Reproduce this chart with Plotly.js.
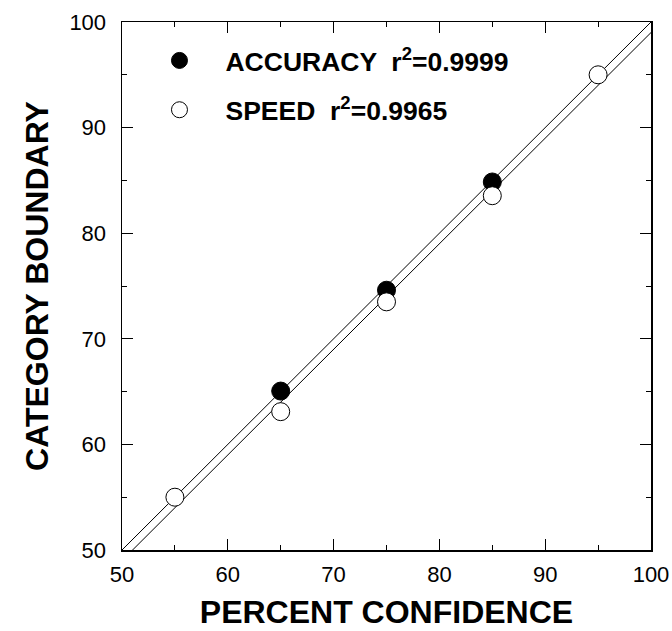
<!DOCTYPE html>
<html>
<head>
<meta charset="utf-8">
<script src="https://cdn.plot.ly/plotly-3.0.1.min.js"></script>
<style>
  html, body { margin: 0; padding: 0; background: #ffffff; }
  #chart { width: 672px; height: 631px; }
</style>
</head>
<body>
<div id="chart"></div>
<script>
// ---- data ----
const accuracyX = [65, 75, 85];
const accuracyY = [65.05, 74.6, 84.85];
const speedX = [55, 65, 75, 85, 95];
const speedY = [55.0, 63.1, 73.5, 83.55, 95.0];
// fitted regression lines (endpoints across the axis range)
const fitX = [50, 100];
const accuracyFitY = [50, 100];
const speedFitY = [49.0, 99.0];
const accuracyLabel = 'ACCURACY  r<sup>2</sup>=0.9999';
const speedLabel = 'SPEED  r<sup>2</sup>=0.9965';
const xTitle = 'PERCENT CONFIDENCE';
const yTitle = 'CATEGORY BOUNDARY';
const tickVals = [50, 60, 70, 80, 90, 100];

const FONT = 'Liberation Sans, Arial, Helvetica, sans-serif';

const traces = [
  { x: fitX, y: accuracyFitY, mode: 'lines', line: { color: '#000', width: 1 },
    showlegend: false, hoverinfo: 'skip' },
  { x: fitX, y: speedFitY, mode: 'lines', line: { color: '#000', width: 1 },
    showlegend: false, hoverinfo: 'skip' },
  { x: accuracyX, y: accuracyY, mode: 'markers', name: accuracyLabel,
    marker: { symbol: 'circle', size: 18, color: '#000', line: { color: '#000', width: 1 } },
    legend: 'legend', cliponaxis: false },
  { x: speedX, y: speedY, mode: 'markers', name: speedLabel,
    marker: { symbol: 'circle', size: 18, color: '#fff', line: { color: '#000', width: 1 } },
    legend: 'legend2', cliponaxis: false }
];

const axisCommon = {
  range: [50, 100],
  tickvals: tickVals,
  ticktext: tickVals.map(String),
  ticks: 'inside',
  ticklen: 11,
  tickwidth: 1,
  tickcolor: '#000',
  minor: { dtick: 5, tick0: 50, ticks: 'inside', ticklen: 5, tickwidth: 1, tickcolor: '#000', showgrid: false },
  showline: true,
  linecolor: '#000',
  linewidth: 1.5,
  mirror: 'ticks',
  showgrid: false,
  zeroline: false,
  tickfont: { family: FONT, size: 22, color: '#000' },
  fixedrange: true
};

const legendCommon = {
  xanchor: 'left', yanchor: 'middle',
  bgcolor: 'rgba(0,0,0,0)', borderwidth: 0, itemwidth: 82,
  font: { family: FONT, size: 26.5, color: '#000', weight: 'bold' }
};

const layout = {
  width: 672,
  height: 631,
  margin: { l: 121.5, r: 21, t: 22, b: 81, pad: 0 },
  paper_bgcolor: '#fff',
  plot_bgcolor: '#fff',
  font: { family: FONT, color: '#000' },
  xaxis: Object.assign({}, axisCommon, {
    ticklabelstandoff: 4,
    title: { text: xTitle, font: { family: FONT, size: 32, color: '#000', weight: 'bold' }, standoff: 14 }
  }),
  yaxis: Object.assign({}, axisCommon, {
    ticklabelstandoff: 10,
    title: { text: yTitle, font: { family: FONT, size: 32, color: '#000', weight: 'bold' }, standoff: 11 }
  }),
  legend: Object.assign({}, legendCommon, { x: 0.0217, y: 0.9267 }),
  legend2: Object.assign({}, legendCommon, { x: 0.0217, y: 0.8333 }),
  showlegend: true
};

Plotly.newPlot('chart', traces, layout, { displayModeBar: false, staticPlot: true });
</script>
</body>
</html>
